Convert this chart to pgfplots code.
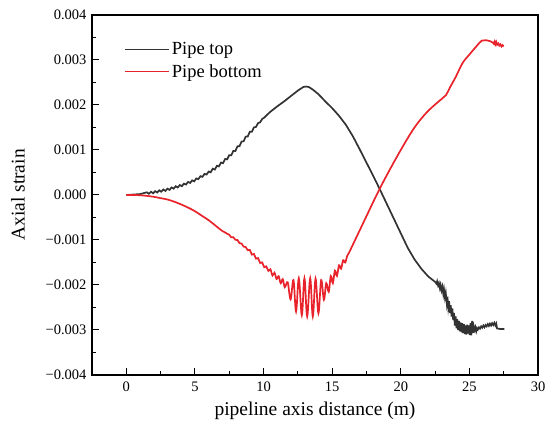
\documentclass[border=0pt]{standalone}
\usepackage{pgfplots}
\pgfplotsset{compat=1.18}
\usepackage{fontspec}
\setmainfont{Liberation Serif}
\definecolor{topc}{HTML}{333333}
\definecolor{botc}{HTML}{E8232B}
\begin{document}
\begin{tikzpicture}
\useasboundingbox (-92pt,-53pt) rectangle (458pt,375pt);
\begin{axis}[
  scale only axis, width=446pt, height=360pt,
  at={(0,0)}, anchor=south west,
  xmin=-2.5, xmax=30, ymin=-0.004, ymax=0.004,
  xtick={0,5,...,30},
  ytick={-0.004,-0.003,-0.002,-0.001,0,0.001,0.002,0.003,0.004},
  yticklabels={−0.004,−0.003,−0.002,−0.001,0.000,0.001,0.002,0.003,0.004},
  scaled y ticks=false,
  minor x tick num=1, minor y tick num=1,
  tick pos=left, tick align=inside,
  major tick length=7pt, minor tick length=4pt,
  axis line style={line width=1.2pt},
  every tick/.style={line width=1pt, black},
  /pgf/number format/assume math mode=true,
  tick label style={font=\rmfamily\fontsize{14.5}{17}\selectfont},
  xticklabel style={yshift=-3pt},
  yticklabel style={xshift=-2pt},
  xlabel={pipeline axis distance (m)},
  ylabel={Axial strain},
  label style={font=\rmfamily\fontsize{19.5}{23}\selectfont},
  xlabel style={yshift=-4pt},
  ylabel style={yshift=14pt},
  legend cell align=left,
  legend style={draw=none, fill=none, at={(0.065,0.935)}, anchor=north west,
    font=\rmfamily\fontsize{18.5}{22}\selectfont, row sep=4pt},
  legend image code/.code={\draw[#1, line width=1.5pt] (0pt,0pt) -- (41pt,0pt); \path (0pt,0pt) -- (44pt,0pt);},
]
\addplot[color=topc, line width=1.7pt] coordinates {
(0,0) (0.5,0.00001) (1,0.00002) (1.5,0.00006) (1.65,0.000026) (1.8,0.000072) (1.95,0.000038)
(2.1,0.000086) (2.25,0.000055) (2.4,0.000104) (2.55,0.000073) (2.7,0.000122) (2.85,0.000091)
(3.0,0.00014) (3.15,0.0001135) (3.3,0.000167) (3.45,0.0001405) (3.6,0.000194) (3.75,0.0001675)
(3.9,0.000221) (4.05,0.000196) (4.2,0.000254) (4.35,0.000232) (4.5,0.00029) (4.65,0.000268)
(4.8,0.000326) (4.95,0.000304) (5.1,0.000367) (5.25,0.0003525) (5.4,0.000418) (5.55,0.0004035)
(5.7,0.000469) (5.85,0.0004545) (6.0,0.00052) (6.15,0.000505) (6.3,0.000585) (6.45,0.000565)
(6.6,0.000649) (6.75,0.000635) (6.9,0.000721) (7.05,0.000709) (7.2,0.000801) (7.35,0.000793)
(7.5,0.000885) (7.65,0.000883) (7.8,0.000981) (7.95,0.000979) (8.1,0.001081) (8.25,0.001085)
(8.4,0.001189) (8.55,0.001193) (8.7,0.001297) (8.85,0.001301) (9.0,0.001405) (9.15,0.001406)
(9.3,0.001502) (9.45,0.001513) (9.6,0.001597) (9.75,0.001615) (9.9,0.001688) (10.05,0.001719)
(10.2,0.001766) (10.5,0.00185) (11,0.00197) (11.5,0.00208) (12,0.0022) (12.5,0.00232)
(12.9,0.0024) (13.1,0.00241) (13.3,0.0024) (13.6,0.00234) (14,0.00224) (14.5,0.00208)
(15,0.00193) (15.5,0.00176) (16,0.00156) (16.5,0.00131) (17,0.00102) (17.5,0.00072)
(18,0.00042) (18.5,0.00011) (19,-0.00021) (19.5,-0.00053) (20,-0.00085) (20.5,-0.00117)
(21,-0.00143) (21.5,-0.00164) (22,-0.00181) (22.5,-0.00193)
(22.6,-0.00197) (22.65,-0.00192) (22.72,-0.00201) (22.78,-0.00196) (22.85,-0.00207) (22.9,-0.002)
(22.97,-0.00212) (23.03,-0.00204) (23.1,-0.0022) (23.15,-0.0021) (23.22,-0.00228) (23.28,-0.00218)
(23.35,-0.0024) (23.4,-0.00226) (23.46,-0.0025) (23.52,-0.00236) (23.58,-0.00262) (23.64,-0.00245)
(23.7,-0.0027) (23.76,-0.00252) (23.82,-0.00278) (23.88,-0.00262) (23.94,-0.0029) (24.0,-0.0027)
(24.06,-0.00296) (24.12,-0.00276) (24.18,-0.003) (24.24,-0.0028) (24.3,-0.00303) (24.36,-0.00283)
(24.42,-0.00305) (24.48,-0.00285) (24.54,-0.00307) (24.6,-0.00287) (24.66,-0.00309) (24.72,-0.0029)
(24.78,-0.0031) (24.84,-0.00288) (24.9,-0.00308) (24.96,-0.0029) (25.02,-0.00311) (25.08,-0.00285)
(25.14,-0.00312) (25.2,-0.0028) (25.26,-0.00306) (25.32,-0.00292) (25.38,-0.003) (25.44,-0.00294)
(25.5,-0.00303) (25.56,-0.00296) (25.62,-0.00299) (25.7,-0.00294) (25.78,-0.00297) (25.86,-0.00292)
(25.94,-0.00295) (26.02,-0.0029) (26.1,-0.00294) (26.18,-0.00289) (26.26,-0.00292) (26.34,-0.00287)
(26.42,-0.00291) (26.5,-0.00286) (26.58,-0.0029) (26.66,-0.00285) (26.74,-0.00289) (26.82,-0.00284)
(26.9,-0.0029) (26.96,-0.00286) (27.02,-0.00297) (27.1,-0.00297) (27.3,-0.00298) (27.55,-0.00298)
};
\addlegendentry{Pipe top}
\addplot[color=botc, line width=1.7pt, smooth, tension=0.6] coordinates {
(0,0) (0.5,0) (1,-0.000005) (1.5,-0.00002) (2,-0.00004) (2.5,-0.00007) (3,-0.0001) (3.5,-0.00015)
(4,-0.00021) (4.5,-0.00028) (5,-0.00036) (5.5,-0.00046) (6,-0.00056) (6.5,-0.00068) (7,-0.0008)
(7.5,-0.000885) (7.65,-0.000942) (7.8,-0.000939) (7.95,-0.000996) (8.1,-0.001001) (8.25,-0.00107)
(8.4,-0.001079) (8.55,-0.001148) (8.7,-0.001157) (8.85,-0.001226) (9.0,-0.00122) (9.15,-0.001325)
(9.3,-0.00131) (9.45,-0.001415) (9.6,-0.001402) (9.75,-0.00151) (9.9,-0.001498) (10.05,-0.001604)
(10.2,-0.001586) (10.35,-0.001688) (10.5,-0.00165) (10.65,-0.001789) (10.8,-0.001728) (10.95,-0.001867)
(11.1,-0.001804) (11.25,-0.00196) (11.4,-0.00187) (11.55,-0.00205)
(11.76,-0.00194) (11.97,-0.00232) (12.18,-0.00189) (12.37,-0.00259) (12.57,-0.00185) (12.79,-0.00267)
(12.98,-0.00185) (13.18,-0.0027) (13.4,-0.00185) (13.59,-0.0027) (13.79,-0.00186) (14.0,-0.00263)
(14.2,-0.00189) (14.4,-0.00233) (14.57,-0.00196) (14.75,-0.00215) (14.9,-0.0018) (15.05,-0.00196)
(15.2,-0.00168) (15.35,-0.0018) (15.5,-0.00156) (15.65,-0.00164) (15.8,-0.00145) (15.95,-0.0015)
(16.1,-0.00135) (16.25,-0.00127) (16.5,-0.00111) (17,-0.00079) (17.5,-0.00047) (18,-0.00015)
(18.5,0.00016) (19,0.00045) (19.5,0.00073) (20,0.001) (20.5,0.00126) (21,0.0015) (21.5,0.0017)
(22,0.00187) (22.5,0.00201) (23,0.00214) (23.3,0.00222) (23.6,0.0024) (24,0.00262) (24.5,0.00293)
(25,0.00312) (25.5,0.0033) (25.9,0.00343) (26.2,0.00344) (26.5,0.00342) (26.7,0.00339) (26.78,0.00336)
(26.84,0.00341) (26.9,0.00335) (26.96,0.0034) (27.02,0.00334) (27.1,0.00337) (27.18,0.00332)
(27.26,0.00335) (27.34,0.0033) (27.42,0.00333) (27.5,0.0033)
};
\addlegendentry{Pipe bottom}
\end{axis}
\end{tikzpicture}
\end{document}
